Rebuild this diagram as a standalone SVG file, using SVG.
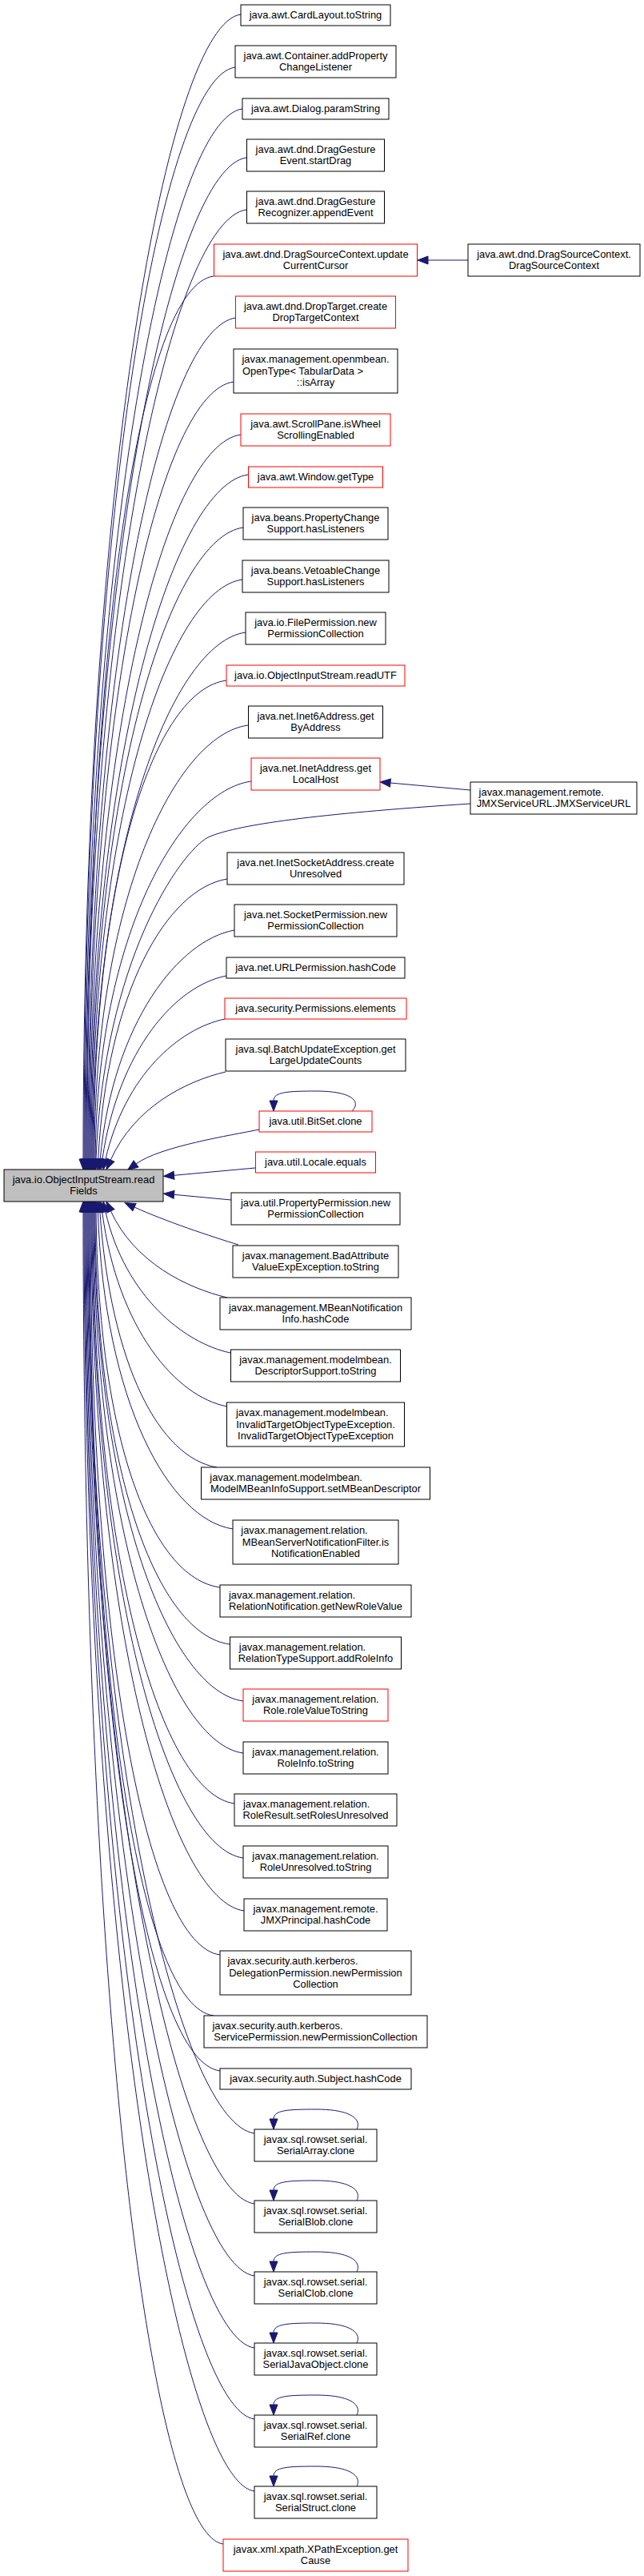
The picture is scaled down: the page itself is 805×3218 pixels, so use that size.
<svg xmlns="http://www.w3.org/2000/svg" width="805" height="3218" viewBox="0 0 805 3218">
<style>
.n rect{fill:#fff;stroke:#000;stroke-width:1}
.n.r rect{stroke:#ff0000}
.n.m rect{fill:#bfbfbf}
text{font-family:"Liberation Sans",Arial,Helvetica,sans-serif;font-size:12.9px;fill:#000;text-anchor:middle}
text.l{text-anchor:start}
#edges path{fill:none;stroke:#191970;stroke-width:1;marker-end:url(#ah)}
</style>
<defs>
<marker id="ah" markerUnits="userSpaceOnUse" markerWidth="14" markerHeight="10" refX="0" refY="5" orient="auto" overflow="visible"><path d="M0,0 L13,5 L0,10 z" fill="#191970" stroke="#191970" stroke-width="1"/></marker>
</defs>
<rect x="0" y="0" width="805" height="3218" fill="#fff"/>
<g id="edges">
<path d="M301,18 C211,30 104,590 104,1448"/>
<path d="M294,84 C204,96 105,630 105,1448"/>
<path d="M303,136 C213,148 106,661 106,1448"/>
<path d="M308,197 C218,209 107,697 107,1448"/>
<path d="M308,262 C218,274 108,736 108,1448"/>
<path d="M267,345 C177,357 109,786 109,1448"/>
<path d="M295,397 C205,409 110,817 110,1448"/>
<path d="M292,477 C202,489 111,865 111,1448"/>
<path d="M301,543 C211,555 112,905 112,1448"/>
<path d="M310,593 C220,605 113,935 113,1448"/>
<path d="M304,659 C214,671 114,975 114,1448"/>
<path d="M303,724 C213,736 115,1014 115,1448"/>
<path d="M307,790 C217,802 116,1053 116,1448"/>
<path d="M283,850 C193,862 117,1089 117,1448"/>
<path d="M310,906 C220,918 118,1123 118,1448"/>
<path d="M314,976 C227,988 121.2,1165 119.1,1448"/>
<path d="M588,1004 C420,1015 300,1028 260,1046 C225,1065 130,1200 120,1448"/>
<path d="M284,1098 C209,1110 133.9,1238 122.7,1448"/>
<path d="M293,1162 C224.4,1174 141.3,1276.5 125.2,1448.1"/>
<path d="M283,1219 C220.1,1231 148.2,1310.7 127.9,1448.1"/>
<path d="M281,1273 C223.5,1285 156.3,1343.3 131.9,1448.3"/>
<path d="M282,1339 C231,1351 167.6,1383.7 138.3,1449.1"/>
<path d="M324,1411 C290,1418 200,1432 170,1454"/>
<path d="M319,1459 L217.5,1468.3"/>
<path d="M289,1499 L217.5,1492.3"/>
<path d="M298,1555 C265,1545 205,1525 168,1508"/>
<path d="M284,1621 C233.3,1609 167.9,1577 138.4,1512.8"/>
<path d="M288,1690 C230.4,1678 156.2,1619.3 131.9,1513.7"/>
<path d="M284,1757 C219.7,1745 147,1659.7 127.7,1513.9"/>
<path d="M271,1833 C199.1,1821 138.5,1705.4 124.9,1514"/>
<path d="M291,1910 C211.4,1898 130.2,1751.6 122.4,1514"/>
<path d="M275,1983 C188.1,1971 122.4,1795.4 120.1,1514"/>
<path d="M287,2054 C197,2042 119,1838 119,1514"/>
<path d="M304,2125 C214,2113 118,1881 118,1514"/>
<path d="M304,2190 C214,2178 117,1920 117,1514"/>
<path d="M293,2253 C203,2241 116,1957 116,1514"/>
<path d="M304,2321 C214,2309 115,1998 115,1514"/>
<path d="M305,2387 C215,2375 114,2038 114,1514"/>
<path d="M275,2442 C185,2430 113,2071 113,1514"/>
<path d="M267,2518 C177,2506 112,2116 112,1514"/>
<path d="M275,2587 C185,2575 111,2158 111,1514"/>
<path d="M318,2665 C228,2653 110,2205 110,1514"/>
<path d="M318,2753 C228,2741 109,2257 109,1514"/>
<path d="M318,2843 C228,2831 108,2311 108,1514"/>
<path d="M318,2933 C228,2921 107,2365 107,1514"/>
<path d="M318,3022 C228,3010 106,2419 106,1514"/>
<path d="M318,3112 C228,3100 105,2473 105,1514"/>
<path d="M279,3178 C189,3166 104,2512 104,1514"/>
<path d="M585,325 L535,325"/>
<path d="M588,987 L488,978"/>
<path d="M440,1388 C452,1376 440,1363 395,1363 C360,1363 342,1364 342,1375"/>
<path d="M446,2660 C452,2648 440,2635 395,2635 C360,2635 342,2636 342,2647"/>
<path d="M446,2749 C452,2737 440,2724 395,2724 C360,2724 342,2725 342,2736"/>
<path d="M446,2838 C452,2826 440,2813 395,2813 C360,2813 342,2814 342,2825"/>
<path d="M446,2927 C452,2915 440,2902 395,2902 C360,2902 342,2903 342,2914"/>
<path d="M446,3017 C452,3005 440,2992 395,2992 C360,2992 342,2993 342,3004"/>
<path d="M446,3106 C452,3094 440,3081 395,3081 C360,3081 342,3082 342,3093"/>
</g>
<g id="main" class="n m"><rect x="5" y="1461" width="199" height="40"/><text x="104.5" y="1478">java.io.ObjectInputStream.read</text><text x="104.5" y="1492">Fields</text></g>
<g id="n1" class="n"><rect x="301" y="6" width="187" height="26"/><text x="394.5" y="23">java.awt.CardLayout.toString</text></g>
<g id="n2" class="n"><rect x="294" y="57" width="201" height="40"/><text x="394.5" y="74">java.awt.Container.addProperty</text><text x="394.5" y="88">ChangeListener</text></g>
<g id="n3" class="n"><rect x="303" y="123" width="183" height="26"/><text x="394.5" y="140">java.awt.Dialog.paramString</text></g>
<g id="n4" class="n"><rect x="308.5" y="174" width="172" height="40"/><text x="394.5" y="191">java.awt.dnd.DragGesture</text><text x="394.5" y="205">Event.startDrag</text></g>
<g id="n5" class="n"><rect x="308.5" y="239" width="172" height="40"/><text x="394.5" y="256">java.awt.dnd.DragGesture</text><text x="394.5" y="270">Recognizer.appendEvent</text></g>
<g id="n6" class="n r"><rect x="267.5" y="305" width="254" height="40"/><text x="394.5" y="322">java.awt.dnd.DragSourceContext.update</text><text x="394.5" y="336">CurrentCursor</text></g>
<g id="n7" class="n r"><rect x="294.5" y="370" width="200" height="40"/><text x="394.5" y="387">java.awt.dnd.DropTarget.create</text><text x="394.5" y="401">DropTargetContext</text></g>
<g id="n8" class="n"><rect x="292" y="436" width="205" height="55"/><text x="394.5" y="453.2">javax.management.openmbean.</text><text class="l" x="303" y="467.5">OpenType&lt; TabularData &gt;</text><text x="394.5" y="481.8">::isArray</text></g>
<g id="n9" class="n r"><rect x="301" y="517" width="187" height="40"/><text x="394.5" y="534">java.awt.ScrollPane.isWheel</text><text x="394.5" y="548">ScrollingEnabled</text></g>
<g id="n10" class="n r"><rect x="310.5" y="583" width="168" height="26"/><text x="394.5" y="600">java.awt.Window.getType</text></g>
<g id="n11" class="n"><rect x="304" y="634" width="181" height="40"/><text x="394.5" y="651">java.beans.PropertyChange</text><text x="394.5" y="665">Support.hasListeners</text></g>
<g id="n12" class="n"><rect x="303" y="700" width="183" height="40"/><text x="394.5" y="717">java.beans.VetoableChange</text><text x="394.5" y="731">Support.hasListeners</text></g>
<g id="n13" class="n"><rect x="307" y="765" width="175" height="40"/><text x="394.5" y="782">java.io.FilePermission.new</text><text x="394.5" y="796">PermissionCollection</text></g>
<g id="n14" class="n r"><rect x="283" y="831" width="223" height="26"/><text x="394.5" y="848">java.io.ObjectInputStream.readUTF</text></g>
<g id="n15" class="n"><rect x="310.5" y="882" width="168" height="40"/><text x="394.5" y="899">java.net.Inet6Address.get</text><text x="394.5" y="913">ByAddress</text></g>
<g id="n16" class="n r"><rect x="314" y="947" width="161" height="40"/><text x="394.5" y="964">java.net.InetAddress.get</text><text x="394.5" y="978">LocalHost</text></g>
<g id="n17" class="n"><rect x="284" y="1065" width="221" height="40"/><text x="394.5" y="1082">java.net.InetSocketAddress.create</text><text x="394.5" y="1096">Unresolved</text></g>
<g id="n18" class="n"><rect x="293" y="1130" width="203" height="40"/><text x="394.5" y="1147">java.net.SocketPermission.new</text><text x="394.5" y="1161">PermissionCollection</text></g>
<g id="n19" class="n"><rect x="283" y="1196" width="223" height="26"/><text x="394.5" y="1213">java.net.URLPermission.hashCode</text></g>
<g id="n20" class="n r"><rect x="281" y="1247" width="227" height="26"/><text x="394.5" y="1264">java.security.Permissions.elements</text></g>
<g id="n21" class="n"><rect x="282" y="1298" width="225" height="40"/><text x="394.5" y="1315">java.sql.BatchUpdateException.get</text><text x="394.5" y="1329">LargeUpdateCounts</text></g>
<g id="n22" class="n r"><rect x="324" y="1388" width="141" height="26"/><text x="394.5" y="1405">java.util.BitSet.clone</text></g>
<g id="n23" class="n r"><rect x="319.5" y="1439" width="150" height="26"/><text x="394.5" y="1456">java.util.Locale.equals</text></g>
<g id="n24" class="n"><rect x="289" y="1490" width="211" height="40"/><text x="394.5" y="1507">java.util.PropertyPermission.new</text><text x="394.5" y="1521">PermissionCollection</text></g>
<g id="n25" class="n"><rect x="291" y="1556" width="207" height="40"/><text x="394.5" y="1573">javax.management.BadAttribute</text><text x="394.5" y="1587">ValueExpException.toString</text></g>
<g id="n26" class="n"><rect x="275" y="1621" width="239" height="40"/><text x="394.5" y="1638">javax.management.MBeanNotification</text><text x="394.5" y="1652">Info.hashCode</text></g>
<g id="n27" class="n"><rect x="288.5" y="1686" width="212" height="40"/><text x="394.5" y="1703">javax.management.modelmbean.</text><text x="394.5" y="1717">DescriptorSupport.toString</text></g>
<g id="n28" class="n"><rect x="283.5" y="1752" width="222" height="55"/><text class="l" x="295" y="1769.2">javax.management.modelmbean.</text><text x="394.5" y="1783.5">InvalidTargetObjectTypeException.</text><text x="394.5" y="1797.8">InvalidTargetObjectTypeException</text></g>
<g id="n29" class="n"><rect x="251.5" y="1833" width="286" height="40"/><text class="l" x="262.3" y="1850">javax.management.modelmbean.</text><text x="394.5" y="1864">ModelMBeanInfoSupport.setMBeanDescriptor</text></g>
<g id="n30" class="n"><rect x="291" y="1899" width="207" height="55"/><text class="l" x="301.3" y="1916.2">javax.management.relation.</text><text x="394.5" y="1930.5">MBeanServerNotificationFilter.is</text><text x="394.5" y="1944.8">NotificationEnabled</text></g>
<g id="n31" class="n"><rect x="275" y="1980" width="239" height="40"/><text class="l" x="286" y="1997">javax.management.relation.</text><text x="394.5" y="2011">RelationNotification.getNewRoleValue</text></g>
<g id="n32" class="n"><rect x="287.5" y="2045" width="214" height="40"/><text class="l" x="298.8" y="2062">javax.management.relation.</text><text x="394.5" y="2076">RelationTypeSupport.addRoleInfo</text></g>
<g id="n33" class="n r"><rect x="304" y="2110" width="181" height="40"/><text x="394.5" y="2127">javax.management.relation.</text><text x="394.5" y="2141">Role.roleValueToString</text></g>
<g id="n34" class="n"><rect x="304" y="2176" width="181" height="40"/><text x="394.5" y="2193">javax.management.relation.</text><text x="394.5" y="2207">RoleInfo.toString</text></g>
<g id="n35" class="n"><rect x="293" y="2241" width="203" height="40"/><text class="l" x="303.9" y="2258">javax.management.relation.</text><text x="394.5" y="2272">RoleResult.setRolesUnresolved</text></g>
<g id="n36" class="n"><rect x="304" y="2306" width="181" height="40"/><text x="394.5" y="2323">javax.management.relation.</text><text x="394.5" y="2337">RoleUnresolved.toString</text></g>
<g id="n37" class="n"><rect x="305" y="2372" width="179" height="40"/><text x="394.5" y="2389">javax.management.remote.</text><text x="394.5" y="2403">JMXPrincipal.hashCode</text></g>
<g id="n38" class="n"><rect x="275" y="2437" width="239" height="55"/><text class="l" x="284.4" y="2454.2">javax.security.auth.kerberos.</text><text x="394.5" y="2468.5">DelegationPermission.newPermission</text><text x="394.5" y="2482.8">Collection</text></g>
<g id="n39" class="n"><rect x="255" y="2518" width="279" height="40"/><text class="l" x="265.4" y="2535">javax.security.auth.kerberos.</text><text x="394.5" y="2549">ServicePermission.newPermissionCollection</text></g>
<g id="n40" class="n"><rect x="275" y="2584" width="239" height="26"/><text x="394.5" y="2601">javax.security.auth.Subject.hashCode</text></g>
<g id="n41" class="n"><rect x="318" y="2660" width="153" height="40"/><text x="394.5" y="2677">javax.sql.rowset.serial.</text><text x="394.5" y="2691">SerialArray.clone</text></g>
<g id="n42" class="n"><rect x="318" y="2749" width="153" height="40"/><text x="394.5" y="2766">javax.sql.rowset.serial.</text><text x="394.5" y="2780">SerialBlob.clone</text></g>
<g id="n43" class="n"><rect x="318" y="2838" width="153" height="40"/><text x="394.5" y="2855">javax.sql.rowset.serial.</text><text x="394.5" y="2869">SerialClob.clone</text></g>
<g id="n44" class="n"><rect x="318" y="2927" width="153" height="40"/><text x="394.5" y="2944">javax.sql.rowset.serial.</text><text x="394.5" y="2958">SerialJavaObject.clone</text></g>
<g id="n45" class="n"><rect x="318" y="3017" width="153" height="40"/><text x="394.5" y="3034">javax.sql.rowset.serial.</text><text x="394.5" y="3048">SerialRef.clone</text></g>
<g id="n46" class="n"><rect x="318" y="3106" width="153" height="40"/><text x="394.5" y="3123">javax.sql.rowset.serial.</text><text x="394.5" y="3137">SerialStruct.clone</text></g>
<g id="n47" class="n r"><rect x="279" y="3172" width="231" height="40"/><text x="394.5" y="3189">javax.xml.xpath.XPathException.get</text><text x="394.5" y="3203">Cause</text></g>
<g id="dsc" class="n"><rect x="585" y="305" width="215" height="40"/><text x="692.5" y="322">java.awt.dnd.DragSourceContext.</text><text x="692.5" y="336">DragSourceContext</text></g>
<g id="jmx" class="n"><rect x="588" y="977" width="208" height="40"/><text class="l" x="598.6" y="994">javax.management.remote.</text><text x="692" y="1008">JMXServiceURL.JMXServiceURL</text></g>
</svg>
